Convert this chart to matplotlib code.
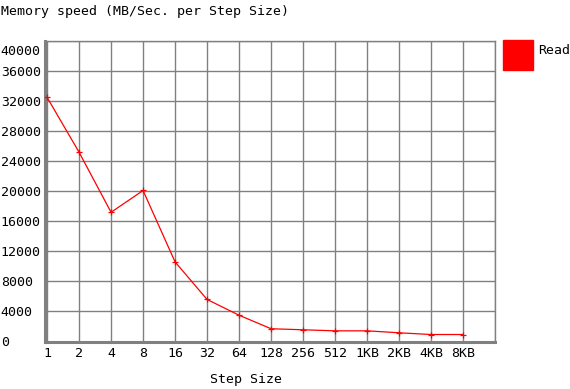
"""Memory speed per step size -> out.png"""

import matplotlib
matplotlib.use("Agg")
import matplotlib.pyplot as plt
import matplotlib.transforms as mtransforms
from matplotlib.patches import Rectangle

steps = ["1", "2", "4", "8", "16", "32", "64", "128", "256", "512",
         "1KB", "2KB", "4KB", "8KB"]
read_mb = [32500, 25200, 17200, 20100, 10600, 5600, 3500, 1700, 1560,
           1420, 1420, 1160, 930, 930]
yticks = list(range(0, 40001, 4000))

GRID, RED = "#808080", "#FF0000"
W, H = 570, 389
plt.rcParams.update({"font.family": ["DejaVu Sans Mono"], "font.size": 9.5,
                     "text.color": "black"})

fig = plt.figure(figsize=(W / 100, H / 100), dpi=100)
ax = fig.add_axes([44.5 / W, 1 - 341.5 / H, (495 - 44.5) / W, (341.5 - 41) / H])

x = list(range(len(steps)))
ax.plot(x, read_mb, color=RED, lw=0.9, marker="+", ms=5, mew=0.9, zorder=3)

ax.set_xlim(-0.08, len(steps))
ax.set_ylim(0, 40000)
ax.set_xticks(x + [len(steps)])
ax.set_xticklabels(steps + [""])
ax.set_yticks(yticks)
ax.set_yticklabels([str(v) for v in yticks])
ax.grid(True, color=GRID, lw=1.0)
ax.set_axisbelow(True)
ax.tick_params(length=0)
ax.tick_params(axis="x", pad=4)
ax.tick_params(axis="y", pad=31.5)
for lab in ax.get_yticklabels():
    lab.set_ha("left")
# top label sits a bit under its gridline in the original
top = ax.get_yticklabels()[-1]
top.set_transform(top.get_transform() + mtransforms.ScaledTranslation(0, -9 / 100, fig.dpi_scale_trans))

for s in ["top", "right"]:
    ax.spines[s].set_color(GRID); ax.spines[s].set_linewidth(1.0)
for s in ["left", "bottom"]:
    ax.spines[s].set_color(GRID); ax.spines[s].set_linewidth(2.2)

fig.text(1 / W, 1 - 11 / H, "Memory speed (MB/Sec. per Step Size)", va="center", ha="left")
fig.text(246 / W, 1 - 380 / H, "Step Size", va="center", ha="center")

# legend box
fig.add_artist(Rectangle((503 / W, 1 - 70 / H), 30 / W, 30 / H, color=RED,
                         transform=fig.transFigure))
fig.text(538 / W, 1 - 50 / H, "Read", va="center", ha="left")

fig.savefig("out.png", dpi=100, facecolor="white")
